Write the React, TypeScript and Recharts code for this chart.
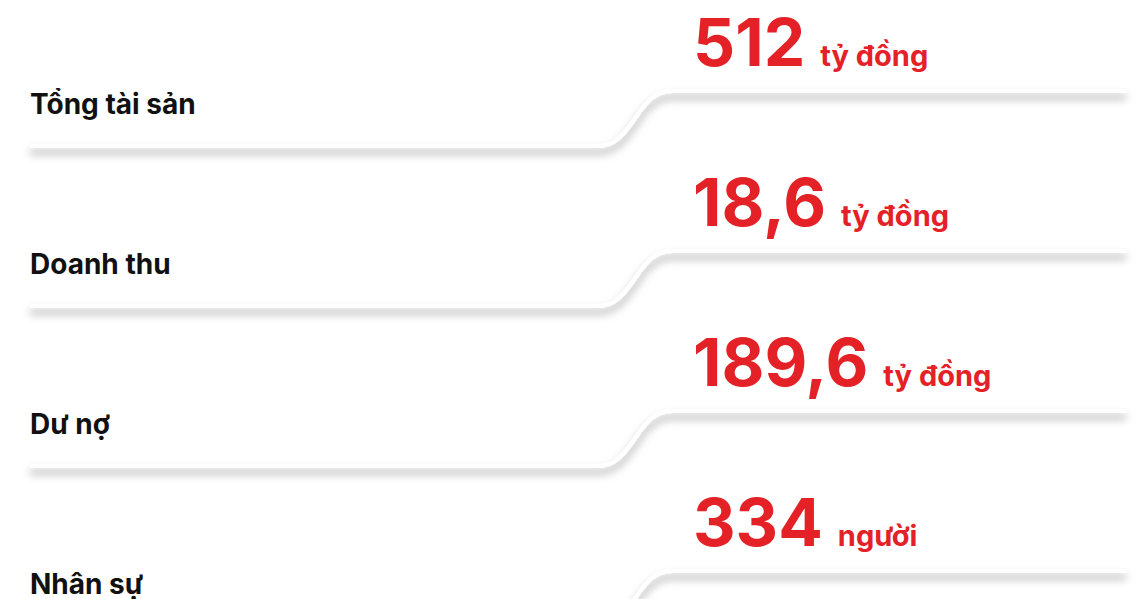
import React from 'react';
import { BarChart, Bar, XAxis, YAxis } from 'recharts';

const labels = ['Tổng tài sản', 'Doanh thu', 'Dư nợ', 'Nhân sự'];
const values = [512, 18.6, 189.6, 334];
const units = ['tỷ đồng', 'tỷ đồng', 'tỷ đồng', 'người'];

const RED = '#e42127';

const chartData = labels.map((label, i) => ({
  label,
  value: values[i],
  unit: units[i],
}));

const fmt = (v: number) => String(v).replace('.', ',');

// one row = label, connector line and big red figure
const RowShape = (props: any) => {
  const { y, payload } = props;
  const lowY = y + 146;
  const highY = y + 91;
  const path = `M 30 ${lowY} H 598 C 634 ${lowY}, 636 ${highY}, 672 ${highY} H 1126`;
  const num = fmt(payload.value);
  return (
    <g>
      <path d={path} fill="none" stroke="#ffffff" strokeWidth={4} filter="url(#lineShadow)" />
      <text x={30} y={y + 114} fontFamily="Inter" fontWeight={700} fontSize={28} fill="#111111">
        {payload.label}
      </text>
      <text x={693} y={y + 66} fontFamily="Inter" fontWeight={700} fill={RED}>
        <tspan fontSize={66}>{num}</tspan>
        <tspan fontSize={29} dx={15}>{payload.unit}</tspan>
      </text>
    </g>
  );
};

const App: React.FC = () => {
  return (
    <div style={{ margin: '-8px 0 0 -8px', width: 1144, height: 599, overflow: 'hidden', background: '#fff' }}>
      <BarChart
        width={1144}
        height={640}
        data={chartData}
        layout="vertical"
        margin={{ top: 0, right: 0, bottom: 0, left: 0 }}
        barCategoryGap={0}
      >
        <defs>
          <filter id="lineShadow" x="-5%" y="-100%" width="110%" height="400%">
            <feDropShadow dx={0} dy={6} stdDeviation={4} floodColor="#000" floodOpacity={0.35} />
          </filter>
        </defs>
        <XAxis type="number" hide domain={[0, 'dataMax']} />
        <YAxis type="category" dataKey="label" hide />
        <Bar dataKey="value" isAnimationActive={false} shape={RowShape} />
      </BarChart>
    </div>
  );
};

export default App;
